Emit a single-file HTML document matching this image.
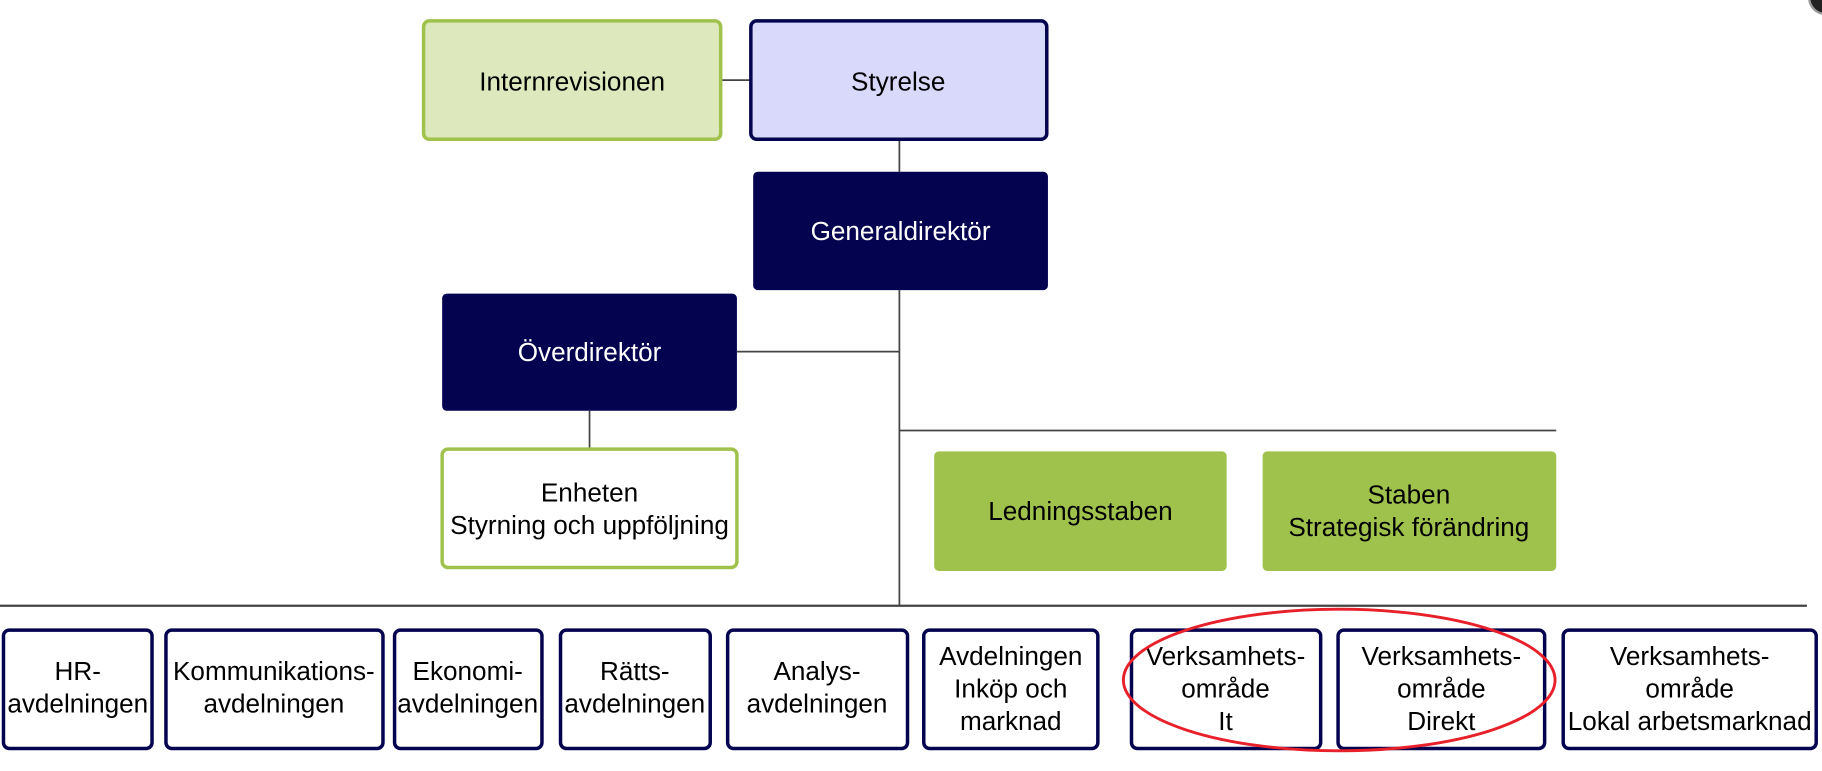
<!DOCTYPE html>
<html><head><meta charset="utf-8"><style>
html,body{margin:0;padding:0;background:#fff;}
svg{display:block}
text{font-family:"Liberation Sans",Arial,sans-serif;font-size:22.5px;text-anchor:middle;fill:#000}
</style></head><body>
<svg width="1822" height="771" viewBox="0 0 1570 664.4" preserveAspectRatio="none" xmlns="http://www.w3.org/2000/svg">
<g stroke="#444" stroke-width="1.5" fill="none">
<line x1="775" y1="120" x2="775" y2="148"/>
<line x1="775" y1="250" x2="775" y2="522"/>
<line x1="622" y1="69" x2="646" y2="69"/>
<line x1="635" y1="303" x2="775" y2="303"/>
<line x1="508" y1="354" x2="508" y2="386"/>
<line x1="775" y1="371" x2="1341" y2="371"/>
<line x1="0" y1="522" x2="1557" y2="522" stroke-width="2"/>
</g>
<rect x="365" y="18" width="256" height="102" rx="5" fill="#dde8bd" stroke="#9fc24d" stroke-width="3"/>
<text x="493" y="78">Internrevisionen</text>
<rect x="647" y="18" width="255" height="102" rx="5" fill="#d9d9fb" stroke="#03034f" stroke-width="3"/>
<text x="774" y="78">Styrelse</text>
<rect x="649" y="148" width="254" height="102" rx="4" fill="#03034f"/>
<text x="776" y="207" style="fill:#fff">Generaldirektör</text>
<rect x="381" y="253" width="254" height="101" rx="4" fill="#03034f"/>
<text x="508" y="311" style="fill:#fff">Överdirektör</text>
<rect x="381" y="387" width="254" height="102" rx="5" fill="#fff" stroke="#9fc24d" stroke-width="3"/>
<text x="508" y="432">Enheten</text><text x="508" y="460">Styrning och uppföljning</text>
<rect x="805" y="389" width="252" height="103" rx="4" fill="#9fc24d"/>
<text x="931" y="448">Ledningsstaben</text>
<rect x="1088" y="389" width="253" height="103" rx="4" fill="#9fc24d"/>
<text x="1214" y="434">Staben</text><text x="1214" y="462">Strategisk förändring</text>
<g fill="#fff" stroke="#03034f" stroke-width="3">
<rect x="3" y="543" width="128" height="102" rx="5"/>
<rect x="143" y="543" width="187" height="102" rx="5"/>
<rect x="340" y="543" width="127" height="102" rx="5"/>
<rect x="483" y="543" width="129" height="102" rx="5"/>
<rect x="627" y="543" width="155" height="102" rx="5"/>
<rect x="796" y="543" width="150" height="102" rx="5"/>
<rect x="975" y="543" width="163" height="102" rx="5"/>
<rect x="1153" y="543" width="178" height="102" rx="5"/>
<rect x="1347" y="543" width="218" height="102" rx="5"/>
</g>
<text x="67" y="586">HR-</text><text x="67" y="614">avdelningen</text>
<text x="236" y="586">Kommunikations-</text><text x="236" y="614">avdelningen</text>
<text x="403" y="586">Ekonomi-</text><text x="403" y="614">avdelningen</text>
<text x="547" y="586">Rätts-</text><text x="547" y="614">avdelningen</text>
<text x="704" y="586">Analys-</text><text x="704" y="614">avdelningen</text>
<text x="871" y="573">Avdelningen</text><text x="871" y="601">Inköp och</text><text x="871" y="629">marknad</text>
<text x="1056" y="573">Verksamhets-</text><text x="1056" y="601">område</text><text x="1056" y="629">It</text>
<text x="1242" y="573">Verksamhets-</text><text x="1242" y="601">område</text><text x="1242" y="629">Direkt</text>
<text x="1456" y="573">Verksamhets-</text><text x="1456" y="601">område</text><text x="1456" y="629">Lokal arbetsmarknad</text>
<ellipse cx="1154" cy="586" rx="186" ry="61" fill="none" stroke="#e8202a" stroke-width="2.5"/>
<circle cx="1573" cy="-2" r="14" fill="#222" stroke="#999" stroke-width="2"/>
</svg>
</body></html>
